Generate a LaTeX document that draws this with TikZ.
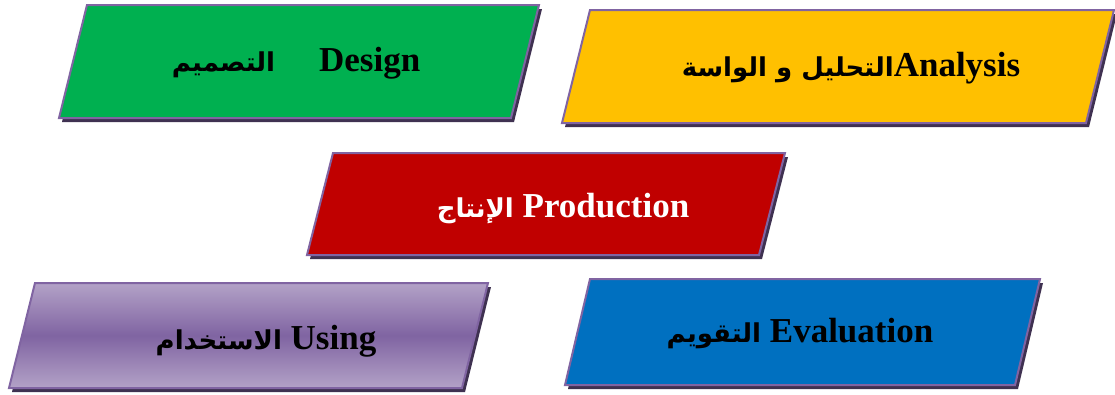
\documentclass[tikz,border=0pt]{standalone}
\usepackage{fontspec}
\setmainfont{Liberation Serif}
\newfontfamily\arabicfont[Script=Arabic]{DejaVu Sans}
\TeXXeTstate=1
\usetikzlibrary{shadows}

\definecolor{boxline}{HTML}{8064A2}
\definecolor{boxshadow}{HTML}{3F3151}
\definecolor{designgreen}{HTML}{00B050}
\definecolor{analysisgold}{HTML}{FFC000}
\definecolor{productionred}{HTML}{C00000}
\definecolor{evaluationblue}{HTML}{0070C0}
\definecolor{usinglight}{HTML}{B3A2C7}
\definecolor{usingdark}{HTML}{8064A2}

\newcommand{\arabictext}[1]{{\arabicfont\fontsize{26}{30}\selectfont\beginR #1\endR}}

\begin{document}
\begin{tikzpicture}[x=1pt, y=-1pt]

	\tikzset{
		phase/.style={draw=boxline, line width=2pt, line join=miter,
			drop shadow={shadow xshift=3pt, shadow yshift=-4pt, fill=boxshadow, opacity=1}},
		box design/.style={fill=designgreen},
		box analysis/.style={fill=analysisgold},
		box production/.style={fill=productionred},
		box evaluation/.style={fill=evaluationblue},
		box using/.style={top color=usinglight, bottom color=usinglight, middle color=usingdark},
		phase text/.style={font=\fontsize{35}{40}\selectfont\bfseries, inner sep=0pt}
	}

	\useasboundingbox (0,0) rectangle (1115,394);

	% phase boxes (bottom left corner, side, height, slant)
	\foreach \n/\x/\y/\w/\h/\s in {design/59/118/452/113/28, analysis/562/123/524/113/28,
		production/307/255/452/102/26, using/9/388/453/105/26, evaluation/565/385/450/106/25}
		\draw [phase, box \n/.try] (\x,\y) coordinate (\n-sw) -- ++(\w,0) -- ++(\s,-\h)
			-- ++(-\w,0) coordinate (\n-nw) -- cycle;

	% labels
	\node [phase text] (design-text) at (296,63) {\arabictext{التصميم}\hspace{44pt}Design};
	\node [phase text] (analysis-text) at (851,68) {\arabictext{التحليل و الواسة}Analysis};
	\node [phase text, text=white] (production-text) at (563,209) {\arabictext{الإنتاج} Production};
	\node [phase text] (using-text) at (266,341) {\arabictext{الاستخدام} Using};
	\node [phase text] (evaluation-text) at (800,334) {\arabictext{التقويم} Evaluation};

\end{tikzpicture}
\end{document}
